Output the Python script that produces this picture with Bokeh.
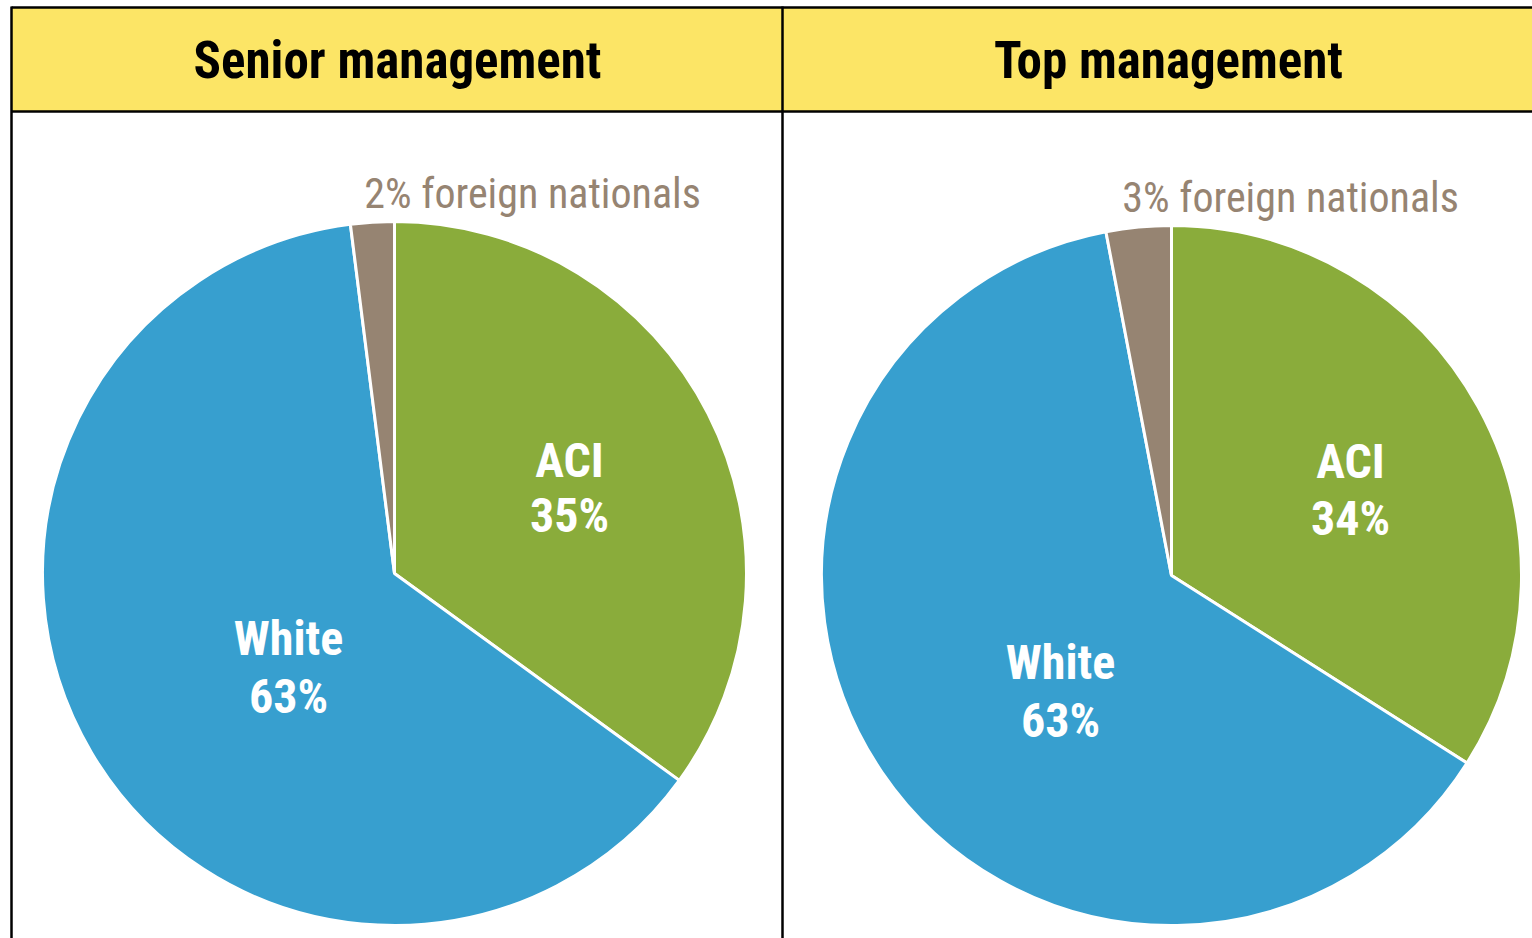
import numpy as np
from bokeh.plotting import figure
from bokeh.models import Range1d
from bokeh.core.properties import value
from bokeh.embed import file_html
from bokeh.resources import INLINE

# ---- data ----
panels = ["Senior management", "Top management"]
categories = ["ACI", "White", "foreign nationals"]
senior_values = [35, 63, 2]
top_values = [34, 63, 3]
colors = ["#8AAC3B", "#379FCF", "#968472"]

# ---- layout (screen pixel coordinates, y measured from top) ----
W, H = 1532, 938
FONT = "Roboto Condensed"
SHIFT = 17  # baseline correction

p = figure(width=W, height=H, output_backend="svg", toolbar_location=None,
           x_range=Range1d(0, W), y_range=Range1d(0, H), min_border=0)
p.axis.visible = False
p.grid.visible = False
p.outline_line_color = None
p.background_fill_color = "white"
p.border_fill_color = "white"


def Y(y):
    return H - y


# header band
p.quad(left=11, right=W + 10, top=Y(7), bottom=Y(111), fill_color="#FCE566", line_color=None)
# borders
p.segment(x0=[11, 11, 11, 782], y0=[Y(7), Y(111), Y(6), Y(6)],
          x1=[W + 10, W + 10, 11, 782], y1=[Y(7), Y(111), Y(H + 10), Y(H + 10)],
          line_color="black", line_width=2.5)

header_x = [397, 1168]
for hx, title in zip(header_x, panels):
    p.text(x=[hx], y=[Y(77 - SHIFT)], text=[title], text_align="center", text_baseline="alphabetic",
           text_font=value(FONT), text_font_style="bold", text_font_size="51px",
           text_color="black")

centers = [(394, 573, 352), (1171, 575, 350)]
label_pos = [
    {"ACI": (569, 477, 532), "White": (288, 655, 713), "foreign": (532, 210)},
    {"ACI": (1350, 478, 535), "White": (1060, 679, 737), "foreign": (1290, 214)},
]

for (cx, cy, r), vals, lp in zip(centers, [senior_values, top_values], label_pos):
    fr = np.array(vals, dtype=float) / sum(vals)
    cum = np.concatenate([[0], np.cumsum(fr)])
    # clockwise from 12 o'clock
    starts = np.pi / 2 - cum[1:] * 2 * np.pi
    ends = np.pi / 2 - cum[:-1] * 2 * np.pi
    p.wedge(x=cx, y=Y(cy), radius=r, start_angle=starts, end_angle=ends,
            fill_color=colors, line_color="white", line_width=3)
    # inside labels
    for cat, v in zip(categories[:2], vals[:2]):
        lx, b1, b2 = lp[cat]
        p.text(x=[lx, lx], y=[Y(b1 - SHIFT), Y(b2 - SHIFT)], text=[cat, f"{v}%"],
               text_align="center", text_baseline="alphabetic",
               text_font=value(FONT), text_font_style="bold", text_font_size="48px",
               text_color="white")
    fx, fy = lp["foreign"]
    p.text(x=[fx], y=[Y(fy - SHIFT)], text=[f"{vals[2]}% {categories[2]}"],
           text_align="center", text_baseline="alphabetic",
           text_font=value(FONT), text_font_style="normal", text_font_size="42px",
           text_color="#968472")

open("out.html", "w").write(file_html(p, INLINE))
